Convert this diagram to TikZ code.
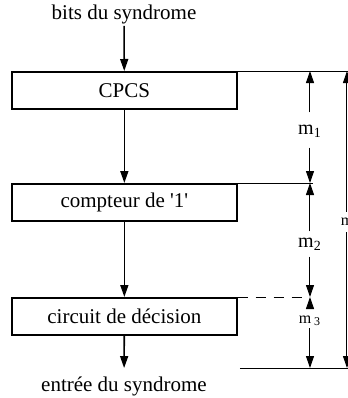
\documentclass[tikz,border=0pt]{standalone}
\usepackage{fontspec}
\setmainfont{Liberation Serif}
\usepackage{tikz}
\usetikzlibrary{arrows.meta}

\begin{document}
\begin{tikzpicture}[x=0.5pt,y=-0.5pt,
  blk/.style={draw, line width=0.85pt, minimum width=112.5pt, minimum height=18.5pt, inner sep=0pt, anchor=north west, font=\fontsize{10.5}{12}\selectfont},
  lbl/.style={font=\fontsize{10.5}{12}\selectfont, inner sep=1pt},
  dlbl/.style={font=\fontsize{10}{11}\selectfont, inner sep=1pt},
  flow/.style={-{Triangle[length=6pt, width=4pt]}, line width=0.8pt},
  dim/.style={-{Triangle[length=6pt, width=4pt]}, line width=0.5pt},
  ref/.style={line width=0.5pt},
]
\useasboundingbox (0,0) rectangle (348,398);
\clip (0,0) rectangle (348,398);
% input / output
\node[lbl] (bits) at (124,14) {bits du syndrome};
\node[lbl] (entree) at (124,386) {entrée du syndrome};
% blocks
\node[blk] (cpcs) at (11,71) {CPCS};
\node[blk] (cpt) at (11,183) {compteur de \textquotesingle 1\textquotesingle};
\node[blk] (dec) at (11,297) {circuit de décision};
% signal path
\draw[flow] (bits) -- (cpcs);
\draw[flow] (cpcs) -- (cpt);
\draw[flow] (cpt) -- (dec);
\draw[flow, shorten >=3pt] (dec) -- (entree);
% reference lines
\coordinate (r0) at (348,71);
\coordinate (r1) at (313,183);
\coordinate (r2) at (303,297);
\coordinate (r3a) at (240,368);
\coordinate (r3b) at (348,368);
\draw[ref] (cpcs.north east) -- (r0);
\draw[ref] (cpt.north east) -- (r1);
\draw[ref, dash pattern=on 5pt off 4pt] (dec.north east) -- (r2);
\draw[ref] (r3a) -- (r3b);
% dimensions
\node[dlbl] (m1) at (310,131) {m\textsubscript{1}};
\node[dlbl] (m2) at (310,244) {m\textsubscript{2}};
\node[dlbl, font=\fontsize{8}{9}\selectfont] (m3) at (310,321) {m\,\textsubscript{3}};
\node[dlbl, font=\fontsize{8}{9}\selectfont] (mt) at (347,222) {m};
\draw[dim, shorten <=5pt] (m1) -- (m1 |- cpcs.north);
\draw[dim, shorten <=4pt] (m1) -- (m1 |- cpt.north);
\draw[dim, shorten <=2pt] (m2) -- (m2 |- cpt.north);
\draw[dim, shorten <=2pt] (m2) -- (m2 |- dec.north);
\draw[dim, shorten <=3pt] (m3) -- (m3 |- dec.north);
\draw[dim] (m3) -- (m3 |- r3a);
\draw[dim, shorten <=2pt] (mt) -- (mt |- cpcs.north);
\draw[dim, shorten <=2pt] (mt) -- (mt |- r3a);
\end{tikzpicture}
\end{document}
